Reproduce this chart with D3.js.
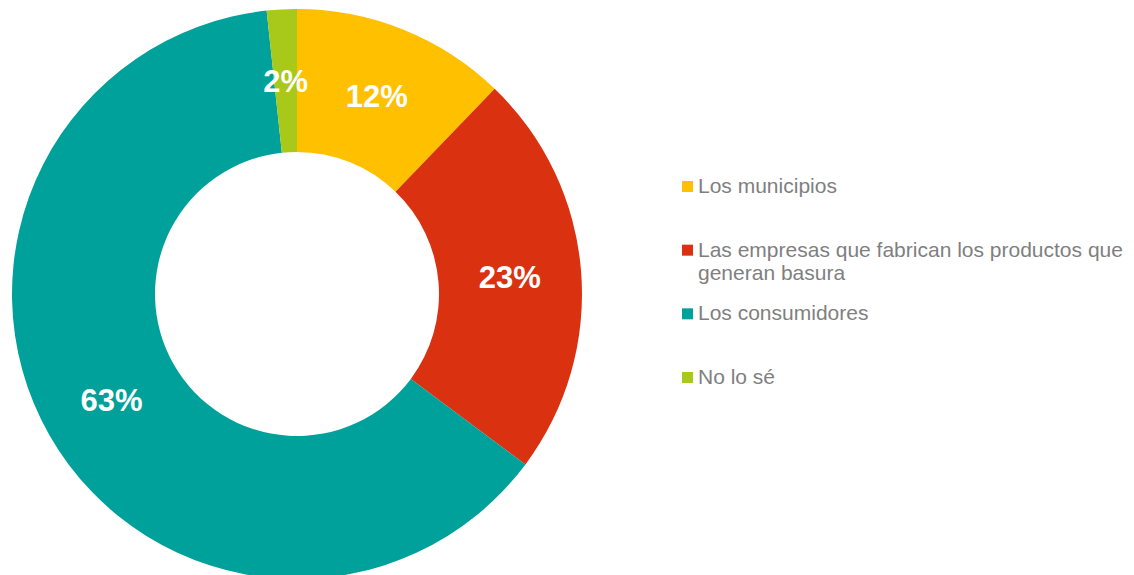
<!DOCTYPE html>
<html>
<head>
<meta charset="utf-8">
<script src="https://cdn.jsdelivr.net/npm/d3@7"></script>
<style>
  body { margin: 0; background: #fff; }
  svg { display: block; font-family: "Liberation Sans", Arial, sans-serif; }
</style>
</head>
<body>
<div id="chart"></div>
<script>
let categories = [
  'Los municipios',
  'Las empresas que fabrican los productos que generan basura',
  'Los consumidores',
  'No lo sé'
]
let values = [12.2, 23.0, 63.1, 1.7]
let labels = ['12%', '23%', '63%', '2%']
let colors = ['#ffc000', '#da3210', '#00a19a', '#a8c81a']

let width = 1134
let height = 575

let svg = d3.select('#chart')
  .append('svg')
  .attr('width', width)
  .attr('height', height)

let outer = 285
let inner = 142

let pie = d3.pie().sort(null).value(d => d.value)
let arc = d3.arc().innerRadius(inner).outerRadius(outer)

let data = categories.map((c, i) => ({ name: c, value: values[i], label: labels[i], color: colors[i] }))

let holder = svg.append('g')
  .attr('transform', 'translate(297,294)')

holder.selectAll('.slice')
  .data(pie(data))
  .enter().append('path')
  .attr('class', 'slice')
  .attr('d', arc)
  .attr('fill', d => d.data.color)

holder.selectAll('.pct')
  .data(pie(data))
  .enter().append('text')
  .attr('class', 'pct')
  .attr('transform', d => `translate(${arc.centroid(d)})`)
  .attr('text-anchor', 'middle')
  .attr('dy', '0.36em')
  .attr('font-size', 31)
  .attr('font-weight', 'bold')
  .attr('fill', '#fff')
  .text(d => d.data.label)

// legend
let legendY = d3.scalePoint()
  .domain(categories)
  .range([193, 384])

let legend = svg.append('g')
  .selectAll('.legend-item')
  .data(data)
  .enter().append('g')
  .attr('class', 'legend-item')
  .attr('transform', d => `translate(682,${legendY(d.name)})`)

legend.append('rect')
  .attr('x', 0)
  .attr('y', -12)
  .attr('width', 11)
  .attr('height', 11)
  .attr('fill', d => d.color)

legend.append('text')
  .attr('x', 16)
  .attr('font-size', 21)
  .attr('fill', '#7f7f7f')
  .each(function(d) {
    let text = d3.select(this)
    let words = d.name.split(' ')
    let line = []
    let tspan = text.append('tspan').attr('x', 16).attr('dy', 0)
    words.forEach(w => {
      line.push(w)
      tspan.text(line.join(' '))
      if (tspan.node().getComputedTextLength() > 440 && line.length > 1) {
        line.pop()
        tspan.text(line.join(' '))
        line = [w]
        tspan = text.append('tspan').attr('x', 16).attr('dy', 23).text(w)
      }
    })
  })
</script>
</body>
</html>
